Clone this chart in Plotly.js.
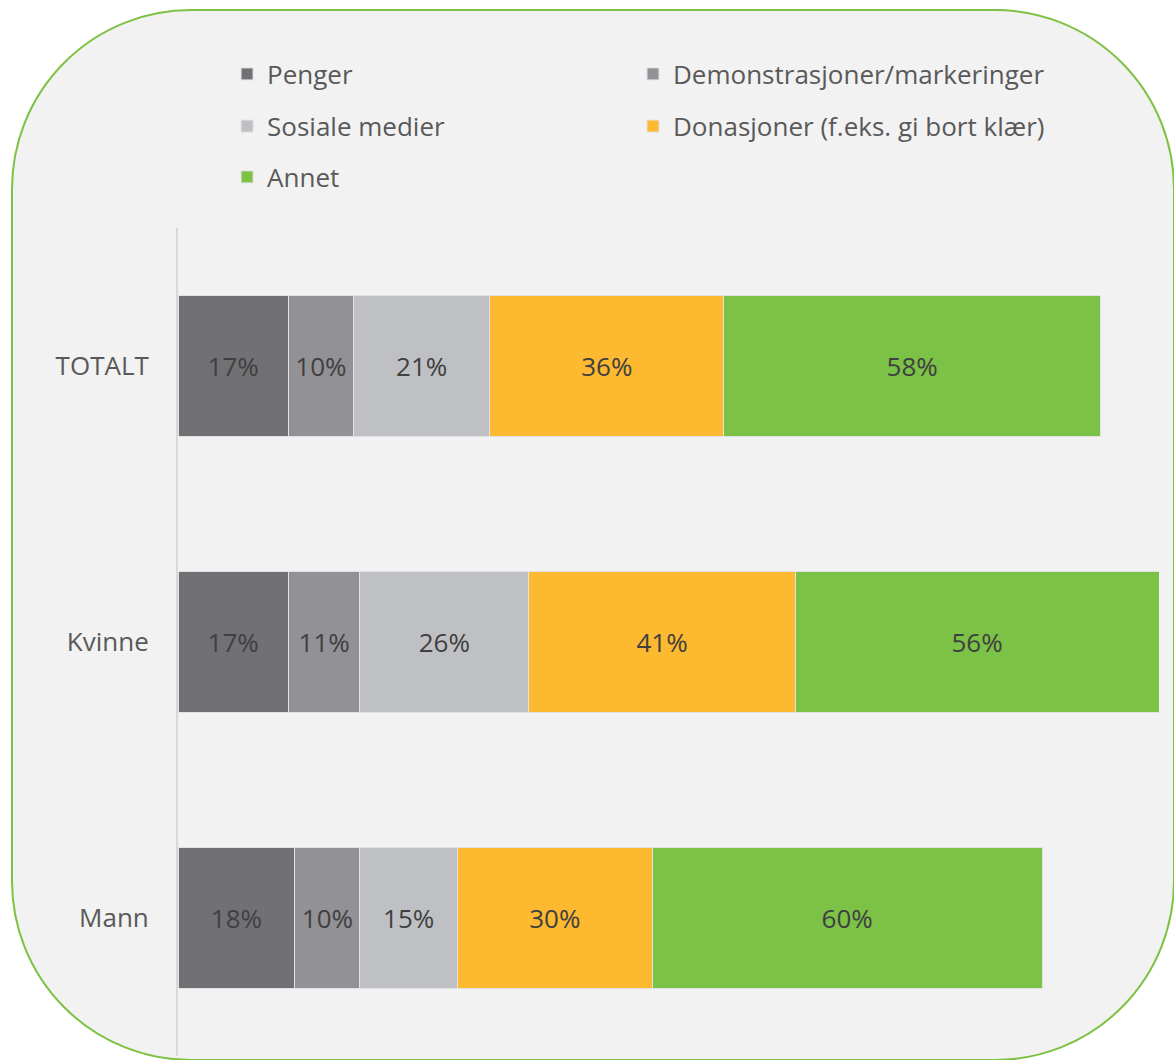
<!DOCTYPE html>
<html>
<head>
<meta charset="utf-8">
<script src="https://cdn.plot.ly/plotly-3.0.1.min.js"></script>
<style>
  html, body { margin: 0; padding: 0; background: #ffffff; }
  #wrap { position: relative; width: 1174px; height: 1060px; overflow: hidden; }
  #frame { position: absolute; left: 11px; top: 9px; width: 1160px; height: 1048px;
           border: 2.5px solid #7DC242; border-radius: 180px; background: #F2F2F2; }
  #chart { position: absolute; left: 0; top: 0; width: 1174px; height: 1060px; }
</style>
</head>
<body>
<div id="wrap">
  <div id="frame"></div>
  <div id="chart"></div>
</div>
<script>
const categories = ["TOTALT", "Kvinne", "Mann"];
const seriesNames = ["Penger", "Demonstrasjoner/markeringer", "Sosiale medier", "Donasjoner (f.eks. gi bort klær)", "Annet"];
const penger = [17, 17, 18];
const demonstrasjoner = [10, 11, 10];
const sosialeMedier = [21, 26, 15];
const donasjoner = [36, 41, 30];
const annet = [58, 56, 60];
const seriesValues = [penger, demonstrasjoner, sosialeMedier, donasjoner, annet];
const colors = ["#717075", "#929196", "#BFC0C4", "#FDB92F", "#7BC247"];

// one legend box per entry: two columns, three rows
const legendIds = ["legend", "legend2", "legend3", "legend4", "legend5"];
const legendX = [0.050, 0.4638, 0.050, 0.4638, 0.050];
const legendY = [1.186, 1.186, 1.123, 1.123, 1.0616];

const FONT = "Open Sans, Noto Sans, sans-serif";

const traces = seriesNames.map((name, i) => ({
  type: "bar",
  orientation: "h",
  name: name,
  y: categories,
  x: seriesValues[i],
  legend: legendIds[i],
  marker: { color: colors[i], line: { color: "#E2E2E2", width: 1 } },
  texttemplate: "%{x}%",
  textposition: "inside",
  insidetextanchor: "middle",
  textangle: 0,
  textfont: { family: FONT, size: 26, color: "#404040" },
  hoverinfo: "skip"
}));

const layout = {
  width: 1174,
  height: 1060,
  margin: { l: 178, r: 15, t: 228, b: 4, pad: 0 },
  paper_bgcolor: "rgba(0,0,0,0)",
  plot_bgcolor: "rgba(0,0,0,0)",
  barmode: "stack",
  bargap: 0.49,
  showlegend: true,
  xaxis: {
    range: [0, 151],
    showgrid: false, zeroline: false, showticklabels: false, showline: false,
    fixedrange: true
  },
  yaxis: {
    type: "category",
    categoryorder: "array",
    categoryarray: categories,
    range: [2.5, -0.5],
    showgrid: false, zeroline: false,
    showline: true, linecolor: "#D9D9D9", linewidth: 2,
    ticks: "",
    ticklabelstandoff: 22,
    tickfont: { family: FONT, size: 26, color: "#595959" },
    fixedrange: true
  },
  uniformtext: { mode: false }
};

legendIds.forEach((id, i) => {
  layout[id] = {
    orientation: "v",
    xref: "paper", yref: "paper",
    x: legendX[i], xanchor: "left",
    y: legendY[i], yanchor: "middle",
    bgcolor: "rgba(0,0,0,0)",
    font: { family: FONT, size: 26, color: "#595959" }
  };
});

Plotly.newPlot("chart", traces, layout, { displayModeBar: false, staticPlot: true });
</script>
</body>
</html>
